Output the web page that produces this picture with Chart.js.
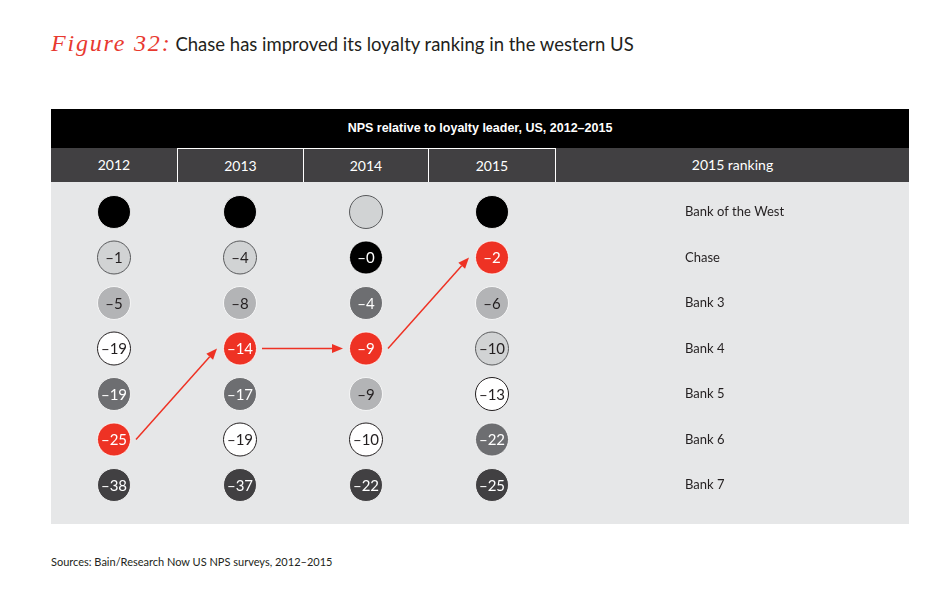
<!DOCTYPE html>
<html>
<head>
<meta charset="utf-8">
<script src="https://cdn.jsdelivr.net/npm/chart.js@4.4.1/dist/chart.umd.min.js"></script>
<style>
  html, body { margin:0; padding:0; background:#ffffff; width:950px; height:592px; overflow:hidden; }
  body { position:relative; font-family: Lato, "Noto Sans", sans-serif; color:#231f20; }
  .abs { position:absolute; }
  #title { left:51px; top:28px; white-space:nowrap; line-height:30px; }
  #title .fig { font-family:"Liberation Serif", serif; font-style:italic; color:#e8392f; font-size:24px; letter-spacing:1.8px; }
  #title .txt { font-size:18.5px; color:#231f20; margin-left:4px; }
  #band { left:51px; top:109px; width:858px; height:39px; background:#000; color:#fff;
          font-family:"Liberation Sans Narrow", "Liberation Sans", sans-serif; font-weight:bold; font-size:12.5px;
          text-align:center; line-height:39px; }
  #yrs { left:51px; top:148px; width:858px; height:34px; background:#414042; }
  .yc { position:absolute; top:0; height:34px; line-height:34px; color:#fff; font-size:14px; text-align:center; box-sizing:border-box; }
  #panel { left:51px; top:182px; width:858px; height:342px; background:#e6e7e8; }
  #foot { left:51px; top:555px; font-size:11px; color:#231f20; white-space:nowrap; }
</style>
</head>
<body>
<div id="title" class="abs"><span class="fig">Figure 32:</span><span class="txt">Chase has improved its loyalty ranking in the western US</span></div>
<div id="band" class="abs">NPS relative to loyalty leader, US, 2012–2015</div>
<div id="yrs" class="abs"></div>
<div id="panel" class="abs"><canvas id="c" width="858" height="342"></canvas></div>
<div id="foot" class="abs">Sources: Bain/Research Now US NPS surveys, 2012–2015</div>
<script>
// ---- data ----
const years = ['2012', '2013', '2014', '2015'];
const rankingHeader = '2015 ranking';
const banks = ['Bank of the West', 'Chase', 'Bank 3', 'Bank 4', 'Bank 5', 'Bank 6', 'Bank 7'];
// bank index at each rank position (1st..7th) per year
const order2012 = [0, 3, 2, 4, 5, 1, 6];
const order2013 = [0, 3, 2, 1, 5, 4, 6];
const order2014 = [3, 0, 5, 1, 2, 4, 6];
const order2015 = [0, 1, 2, 3, 4, 5, 6];
// NPS relative to loyalty leader at each rank position (null = leader)
const values2012 = [null, -1, -5, -19, -19, -25, -38];
const values2013 = [null, -4, -8, -14, -17, -19, -37];
const values2014 = [null, -0, -4, -9, -9, -10, -22];
const values2015 = [null, -2, -6, -10, -13, -22, -25];
const highlightBank = 1; // Chase

// ---- styles ----
const bankFill   = ['#000000', '#ee3224', '#b3b4b6', '#d1d3d4', '#ffffff', '#6d6e71', '#414042'];
const bankBorder = ['#000000', '#ee3224', '#b3b4b6', '#58595b', '#231f20', '#6d6e71', '#414042'];
const bankText   = ['#ffffff', '#ffffff', '#231f20', '#231f20', '#231f20', '#ffffff', '#ffffff'];

// header columns
const yrs = document.getElementById('yrs');
const colEdges = [0, 126, 252, 377, 504, 858];
const headLabels = years.concat([rankingHeader]);
headLabels.forEach((t, i) => {
  const d = document.createElement('div');
  d.className = 'yc';
  d.style.left = colEdges[i] + 'px';
  d.style.width = (colEdges[i + 1] - colEdges[i]) + 'px';
  d.textContent = t;
  if (i >= 1) d.style.borderLeft = '1px solid #fff';
  if (i >= 1 && i <= 3) d.style.borderTop = '1px solid #fff';
  yrs.appendChild(d);
});

const orders = [order2012, order2013, order2014, order2015];
const values = [values2012, values2013, values2014, values2015];

const datasets = years.map((y, yi) => ({
  label: y,
  data: orders[yi].map((b, r) => ({ x: yi, y: r + 1, bank: b, v: values[yi][r] })),
  pointRadius: 16.5,
  pointHoverRadius: 16.5,
  backgroundColor: ctx => bankFill[ctx.raw.bank],
  borderColor: ctx => {
    const b = ctx.raw.bank;
    return (b === 3 || b === 4) ? bankBorder[b] : '#ffffff';
  },
  borderWidth: ctx => (ctx.raw.bank === 3 || ctx.raw.bank === 4) ? 1 : 0.8,
  pointHoverBorderWidth: 1,
  clip: false
}));

const LABEL_X = 4.532;

function fmt(v) {
  return '\u2013' + Math.abs(v);
}

const overlay = {
  id: 'overlay',
  afterDatasetsDraw(chart) {
    const ctx = chart.ctx;
    const xs = chart.scales.x, ys = chart.scales.y;
    ctx.save();
    // arrows between highlighted bank positions
    const pts = chart.data.datasets.map((ds, di) => {
      const idx = ds.data.findIndex(p => p.bank === highlightBank);
      const el = chart.getDatasetMeta(di).data[idx];
      return { x: el.x, y: el.y };
    });
    ctx.strokeStyle = '#ee3224';
    ctx.fillStyle = '#ee3224';
    ctx.lineWidth = 1.5;
    for (let i = 0; i < pts.length - 1; i++) {
      const x1 = pts[i].x + 22, y1 = pts[i].y;
      const x2 = pts[i + 1].x - 23, y2 = pts[i + 1].y;
      const ang = Math.atan2(y2 - y1, x2 - x1);
      const hl = 11, hw = 4.5;
      const bx = x2 - hl * Math.cos(ang), by = y2 - hl * Math.sin(ang);
      ctx.beginPath();
      ctx.moveTo(x1, y1);
      ctx.lineTo(bx, by);
      ctx.stroke();
      ctx.beginPath();
      ctx.moveTo(x2, y2);
      ctx.lineTo(bx + hw * Math.sin(ang), by - hw * Math.cos(ang));
      ctx.lineTo(bx - hw * Math.sin(ang), by + hw * Math.cos(ang));
      ctx.closePath();
      ctx.fill();
    }
    // values inside circles
    ctx.textAlign = 'center';
    ctx.textBaseline = 'middle';
    ctx.font = '15px Lato, "Noto Sans", sans-serif';
    chart.data.datasets.forEach((ds, di) => {
      chart.getDatasetMeta(di).data.forEach((el, j) => {
        const p = ds.data[j];
        if (p.v === null) return;
        ctx.fillStyle = bankText[p.bank];
        ctx.fillText(fmt(p.v), el.x, el.y + 1);
      });
    });
    // 2015 ranking labels
    ctx.textAlign = 'left';
    ctx.fillStyle = '#231f20';
    ctx.font = '13px Lato, "Noto Sans", sans-serif';
    order2015.forEach((b, r) => {
      ctx.fillText(banks[b], xs.getPixelForValue(LABEL_X), ys.getPixelForValue(r + 1));
    });
    ctx.restore();
  }
};

new Chart(document.getElementById('c'), {
  type: 'scatter',
  data: { datasets },
  options: {
    responsive: false,
    animation: false,
    devicePixelRatio: 1,
    layout: { padding: 0, autoPadding: false },
    plugins: { legend: { display: false }, tooltip: { enabled: false } },
    scales: {
      x: { type: 'linear', min: -0.5, max: 6.3095, display: false },
      y: { type: 'linear', min: 0.3407, max: 7.857, reverse: true, display: false }
    }
  },
  plugins: [overlay]
});
</script>
</body>
</html>
